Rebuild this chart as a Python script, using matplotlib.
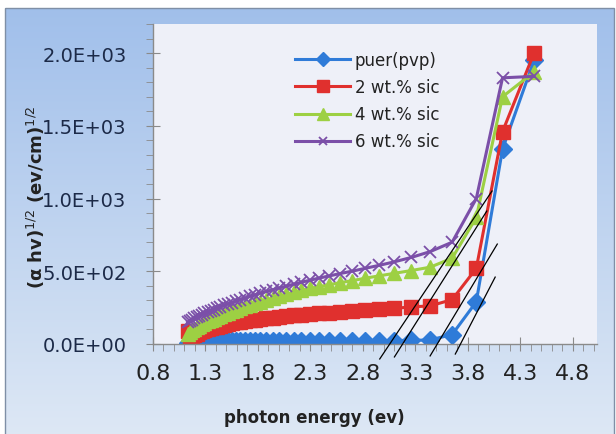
import numpy as np
import matplotlib
matplotlib.use("Agg")
import matplotlib.pyplot as plt
from matplotlib.ticker import MultipleLocator, FormatStrFormatter, FuncFormatter
from matplotlib.patches import Rectangle

# photon energy (eV)
energy = [1.13, 1.15, 1.17, 1.19, 1.22, 1.24, 1.27, 1.29, 1.32, 1.35,
          1.38, 1.41, 1.44, 1.48, 1.51, 1.55, 1.59, 1.63, 1.68, 1.72,
          1.77, 1.82, 1.88, 1.94, 2.00, 2.07, 2.14, 2.21, 2.30, 2.38,
          2.48, 2.58, 2.70, 2.82, 2.95, 3.10, 3.26, 3.44, 3.65, 3.88,
          4.13, 4.43]

pure_pvp = [5, 10, 12, 14, 15, 15, 16, 16, 17, 17,
            18, 18, 18, 19, 19, 19, 20, 20, 20, 20,
            20, 20, 21, 21, 21, 21, 22, 22, 22, 22,
            22, 23, 23, 23, 23, 24, 25, 28, 65, 290,
            1340, 1950]

sic_2 = [90, 45, 55, 65, 72, 80, 88, 95, 100, 108,
         114, 120, 126, 132, 137, 142, 148, 153, 158, 163,
         167, 172, 176, 181, 186, 191, 196, 201, 206, 211,
         216, 221, 227, 233, 238, 245, 255, 262, 305, 520,
         1460, 2000]

sic_4 = [70, 85, 95, 105, 115, 125, 135, 145, 155, 165,
         175, 185, 195, 205, 215, 225, 235, 245, 258, 268,
         280, 292, 304, 316, 330, 342, 355, 368, 382, 394,
         408, 421, 436, 452, 468, 486, 505, 528, 590, 870,
         1700, 1870]

sic_6 = [150, 160, 168, 176, 185, 193, 202, 210, 219, 228,
         237, 246, 255, 265, 275, 285, 295, 305, 316, 327,
         338, 349, 361, 373, 385, 398, 411, 424, 439, 453,
         468, 484, 501, 520, 540, 565, 595, 635, 700, 1000,
         1830, 1840]

# hand-drawn tangent lines (x0, y0, x1, y1)
tangents = [(2.96, -103, 4.03, 1052),
            (3.10, -89, 3.98, 914),
            (3.44, -82, 4.08, 687),
            (3.68, -69, 4.06, 460)]

fig = plt.figure(figsize=(6.16, 4.35), dpi=100)
fig.patch.set_facecolor("white")

# blue gradient chart area behind the plot
bg = fig.add_axes([0, 0, 1, 1], zorder=-10)
bg.set_xlim(0, 616)
bg.set_ylim(435, 0)
bg.axis("off")
grad = np.linspace(0, 1, 256).reshape(-1, 1)
top = np.array([0.63, 0.75, 0.92])
bot = np.array([0.87, 0.91, 0.96])
img = top + (bot - top) * grad[..., None]
bg.imshow(img, extent=(5, 614, 440, 9), aspect="auto")
bg.add_patch(Rectangle((5, 9), 609, 431, fill=False, ec="#7f8fa6", lw=1))

ax = fig.add_axes([153 / 616, 90 / 435, 444 / 616, 320 / 435])
ax.set_facecolor("#eef0f8")

ax.plot(energy, pure_pvp, color="#2f7bd8", marker="D", ms=9, lw=2.2,
        label="puer(pvp)")
ax.plot(energy, sic_2, color="#e0302e", marker="s", ms=10, lw=2.2,
        label="2 wt.% sic")
ax.plot(energy, sic_4, color="#9dd043", marker="^", ms=10, lw=2.2,
        label="4 wt.% sic")
ax.plot(energy, sic_6, color="#7b4fa8", marker="x", ms=8, mew=1.3, lw=2.2,
        label="6 wt.% sic")

for x0, y0, x1, y1 in tangents:
    ax.plot([x0, x1], [y0, y1], color="black", lw=0.9, clip_on=False, zorder=5)

ax.set_xlim(0.8, 5.03)
ax.set_ylim(0, 2200)
ax.set_xticks(np.arange(0.8, 4.81, 0.5))
ax.xaxis.set_minor_locator(MultipleLocator(0.1))
ax.xaxis.set_major_formatter(FormatStrFormatter("%.1f"))
ax.set_yticks([0, 500, 1000, 1500, 2000])
ax.yaxis.set_minor_locator(MultipleLocator(100))
ax.yaxis.set_major_formatter(FuncFormatter(lambda v, p: "%.1E" % v))

for s in ("top", "right"):
    ax.spines[s].set_visible(False)
for s in ("left", "bottom"):
    ax.spines[s].set_color("#8a8a8a")
    ax.spines[s].set_linewidth(1)

ax.tick_params(axis="both", which="major", direction="inout", length=10,
               color="#8a8a8a")
ax.tick_params(axis="both", which="minor", direction="out", length=5,
               color="#8a8a8a")
ax.tick_params(axis="y", which="major", labelsize=14, labelcolor="#1c2a48",
               pad=14)
ax.tick_params(axis="x", which="major", labelsize=16, labelcolor="#222222",
               pad=9)

fig.text(314 / 616, 1 - 418 / 435, "photon energy (ev)", ha="center",
         va="center", fontsize=12, fontweight="bold", color="#222222")
fig.text(36 / 616, 1 - 197 / 435,
         r"(α hv)$^{1/2}$ (ev/cm)$^{1/2}$", rotation=90, ha="center",
         va="center", fontsize=13, fontweight="bold", color="#222222")

ax.legend(loc="upper left", bbox_to_anchor=(295 / 616, 1 - 52 / 435),
          bbox_transform=fig.transFigure, frameon=False, fontsize=12,
          handlelength=3.3, handletextpad=0.3, labelspacing=0.55,
          borderpad=0, borderaxespad=0, labelcolor="#222222", markerscale=0.8)

fig.savefig("out.png", dpi=100)
